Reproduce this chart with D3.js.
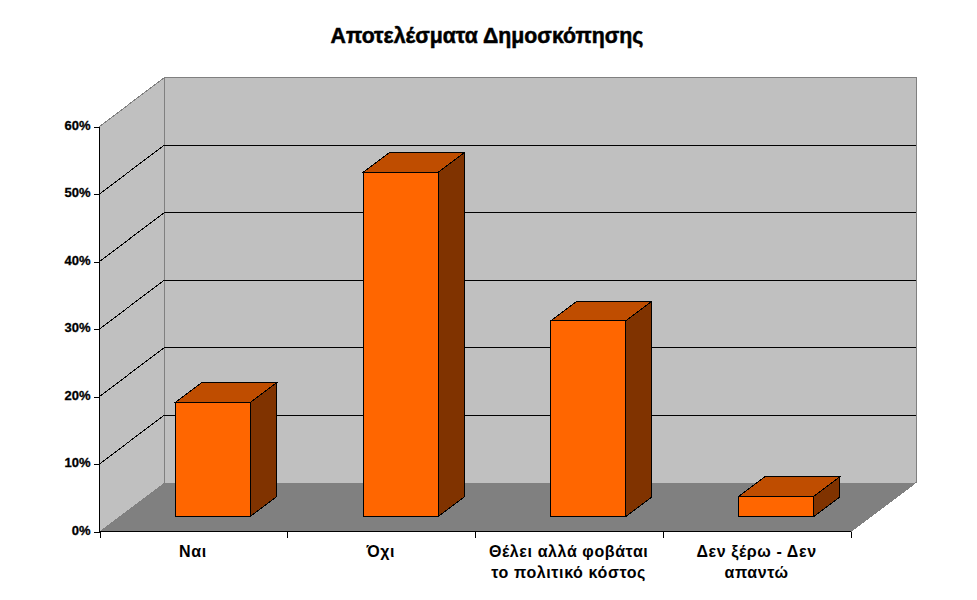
<!DOCTYPE html>
<html><head><meta charset="utf-8">
<script src="https://cdnjs.cloudflare.com/ajax/libs/d3/7.8.5/d3.min.js"></script>
<style>
html,body{margin:0;padding:0;background:#fff;overflow:hidden}
text{font-family:"Liberation Sans",Arial,sans-serif;fill:#000;-webkit-font-smoothing:none}
polygon,path,line,rect{shape-rendering:crispEdges}
</style></head><body>
<svg id="c" width="977" height="600"></svg>
<script>
const chartTitle = "Αποτελέσματα Δημοσκόπησης";
const categories = ["Ναι", "Όχι", "Θέλει αλλά φοβάται\nτο πολιτικό κόστος", "Δεν ξέρω - Δεν\nαπαντώ"];
const values = [16.9, 51, 29, 3];
const yTicks = [0, 10, 20, 30, 40, 50, 60];

const x0 = 99.5, x1 = 851, yBase = 531.5, yTop = 126.5;
const depthX = 65, depthY = 49;
const svg = d3.select("#c");
const x = d3.scaleBand().domain(categories).range([x0, x1]).paddingInner(0).paddingOuter(0);
const xEdge = d3.scaleLinear().domain([0, categories.length]).range([x0, x1]);
const y = d3.scaleLinear().domain([0, 60]).range([yBase, yTop]);
const poly = pts => pts.map(p => p.join(",")).join(" ");

// walls
svg.append("polygon").attr("points", poly([[x0, yTop], [x0 + depthX, yTop - depthY], [x0 + depthX, yBase - depthY], [x0, yBase]]))
  .attr("fill", "#c0c0c0");
svg.append("polygon").attr("points", poly([[x0 + depthX, yTop - depthY], [x1 + depthX, yTop - depthY], [x1 + depthX, yBase - depthY], [x0 + depthX, yBase - depthY]]))
  .attr("fill", "#c0c0c0");
svg.append("polygon").attr("points", poly([[x0, yBase], [x0 + depthX, yBase - depthY], [x1 + depthX, yBase - depthY], [x1, yBase]]))
  .attr("fill", "#808080");
// wall outlines
svg.append("path").attr("fill", "none").attr("stroke", "#808080").attr("stroke-width", 1)
  .attr("d", `M${x0},${yTop}L${x0 + depthX},${yTop - depthY}H${x1 + depthX}V${yBase - depthY}L${x1},${yBase}`);
svg.append("line").attr("x1", x0 + depthX).attr("x2", x0 + depthX).attr("y1", yTop - depthY).attr("y2", yBase - depthY)
  .attr("stroke", "#808080");

// gridlines
const grid = yTicks.filter(t => t > 0 && t < 60);
svg.append("g").selectAll("path").data(grid).join("path")
  .attr("fill", "none").attr("stroke", "#000").attr("stroke-width", 1)
  .attr("d", t => `M${x0},${y(t)}L${x0 + depthX},${y(t) - depthY}H${x1 + depthX}`);

// bars
const barW = 75, offX = 19.25, offY = 15, dX = 26, dY = 19.5;
const bars = svg.append("g").selectAll("g").data(categories.map((c, i) => ({c, v: values[i]}))).join("g")
  .attr("stroke", "#000").attr("stroke-width", 1).attr("stroke-linejoin", "miter");
const bl = d => x(d.c) + (x.bandwidth() - barW) / 2 + offX;
const bt = d => y(d.v) - offY;
const bb = () => y(0) - offY;
bars.append("polygon").attr("fill", "#bf4d00").attr("points", d => poly([[bl(d), bt(d)], [bl(d) + dX, bt(d) - dY], [bl(d) + barW + dX, bt(d) - dY], [bl(d) + barW, bt(d)]]));
bars.append("polygon").attr("fill", "#803300").attr("points", d => poly([[bl(d) + barW, bt(d)], [bl(d) + barW + dX, bt(d) - dY], [bl(d) + barW + dX, bb() - dY], [bl(d) + barW, bb()]]));
bars.append("rect").attr("fill", "#ff6600").attr("x", bl).attr("y", bt).attr("width", barW).attr("height", d => bb() - bt(d));

// axes
const yAxis = svg.append("g").attr("transform", `translate(${x0},0)`)
  .call(d3.axisLeft(y).tickValues(yTicks).tickSize(6).tickPadding(3).tickFormat(d => d + "%"));
yAxis.selectAll("text").attr("font-size", 13).attr("font-weight", "bold")
  .attr("stroke", "#000").attr("stroke-width", 0.3).attr("dy", "0.22em")
  .style("font-family", '"Liberation Sans",Arial,sans-serif');
yAxis.select(".domain").attr("stroke", "#000").attr("d", `M0,${yTop}V${yBase}`);
const xAxis = svg.append("g").attr("transform", `translate(0,${yBase})`)
  .call(d3.axisBottom(xEdge).ticks(categories.length).tickSize(6).tickFormat(""));
xAxis.select(".domain").attr("stroke", "#000").attr("d", `M${x0},0H${x1}`);

// category labels
const lab = svg.append("g").selectAll("text").data(categories).join("text")
  .attr("text-anchor", "middle").attr("font-size", 16).attr("font-weight", "bold")
  .attr("letter-spacing", 0.6)
  .attr("x", c => x(c) + x.bandwidth() / 2 - 0.5);
lab.selectAll("tspan").data(c => c.split("\n")).join("tspan")
  .attr("x", function () { return d3.select(this.parentNode).attr("x"); })
  .attr("y", (d, i) => 556.5 + i * 21).text(d => d);

svg.append("text").attr("x", 487).attr("y", 43).attr("text-anchor", "middle")
  .attr("font-size", 21.3).attr("font-weight", "bold").attr("stroke", "#000").attr("stroke-width", 0.5).text(chartTitle);
</script></body></html>
